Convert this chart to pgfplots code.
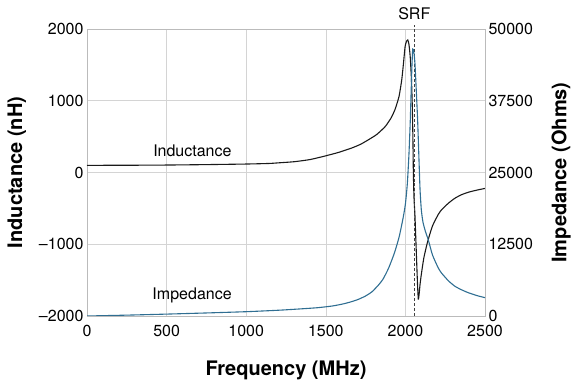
\documentclass[border=0pt]{standalone}
\usepackage{fontspec}
\setmainfont{TeX Gyre Heros}
\usepackage{pgfplots}
\pgfplotsset{compat=1.18}
\definecolor{indc}{HTML}{1A1A1A}
\definecolor{impc}{HTML}{2F6E92}
\definecolor{gridc}{HTML}{D4D4D4}
\definecolor{framec}{HTML}{BBBBBB}
\newcommand{\tickf}{\fontsize{16bp}{19bp}\selectfont}
\newcommand{\labf}{\fontsize{20bp}{24bp}\selectfont\bfseries}
\begin{document}
\begin{tikzpicture}
\path[use as bounding box] (0,0) rectangle (577bp,386bp);
\begin{axis}[
  at={(87bp,70bp)}, anchor=south west,
  scale only axis, width=398bp, height=287bp,
  xmin=0, xmax=2500, ymin=-2000, ymax=2000,
  xtick={0,500,1000,1500,2000,2500},
  xticklabels={0,500,1000,1500,2000,2500},
  ytick={-2000,-1000,0,1000,2000},
  yticklabels={\textendash2000,\textendash1000,0,1000,2000},
  scaled ticks=false,
  grid=major, grid style={gridc, line width=0.6bp},
  axis line style={framec, line width=0.8bp},
  major tick length=0,
  tick label style={font=\tickf, text=black},
  xticklabel style={yshift=-6bp},
  xlabel={Frequency (MHz)},
  ylabel={Inductance (nH)},
  xlabel style={font=\labf, at={(axis description cs:0.5,-0.188)}, anchor=center},
  ylabel style={font=\labf, at={(axis description cs:-0.176,0.5)}, anchor=center},
  clip=false,
]
\addplot[indc, line width=1.1bp, smooth, tension=0.35] coordinates {
(0,100) (250,101) (500,104) (750,110) (1000,118) (1144,126) (1206,135)
(1300,150) (1400,180) (1490,227) (1580,280) (1665,343) (1720,395)
(1769,458) (1820,530) (1873,640) (1910,760) (1935,880) (1960,1060)
(1977,1292) (1988,1523) (1998,1754) (2007,1830) (2015,1847) (2022,1790)
(2030,1620) (2038,1300) (2043,950) (2047,500) (2050,0) (2054,-350)
(2060,-600) (2065,-900) (2070,-1200) (2076,-1550) (2081,-1764)
(2086,-1700) (2092,-1560) (2100,-1420) (2115,-1200) (2130,-1050)
(2144,-930) (2170,-745) (2206,-586) (2227,-520) (2270,-428) (2310,-360)
(2350,-312) (2394,-276) (2450,-245) (2500,-222)
};
\addplot[black!75, densely dashed, line width=0.6bp] coordinates {(2054,-2000) (2054,2060)};
\node[font=\tickf] at (axis cs:662,296) {Inductance};
\node[font=\tickf] at (axis cs:660,-1718) {Impedance};
\node[font=\tickf] at (axis cs:2056,2218) {SRF};
\end{axis}
\begin{axis}[
  at={(87bp,70bp)}, anchor=south west,
  scale only axis, width=398bp, height=287bp,
  xmin=0, xmax=2500, ymin=0, ymax=50000,
  axis x line=none, axis y line*=right,
  ytick={0,12500,25000,37500,50000},
  yticklabels={0,12500,25000,37500,50000},
  scaled ticks=false,
  axis line style={framec, line width=0.8bp},
  major tick length=0,
  tick label style={font=\tickf, text=black},
  ylabel={Impedance (Ohms)},
  ylabel style={font=\labf, at={(axis description cs:1.191,0.5)}, anchor=center},
]
\addplot[impc, line width=1.1bp, smooth, tension=0.35] coordinates {
(0,0) (250,150) (500,330) (750,530) (1000,750) (1200,1000) (1331,1220)
(1450,1450) (1540,1740) (1600,2050) (1650,2400) (1700,2850) (1748,3460)
(1790,4220) (1831,5400) (1860,6450) (1894,8310) (1930,10900) (1960,13700)
(1985,17000) (2000,19500) (2012,23000) (2022,28000) (2030,33500)
(2036,39000) (2041,43500) (2046,46500) (2053,46000) (2060,44000)
(2068,39500) (2077,34000) (2085,27500) (2092,22000) (2100,18500)
(2110,16400) (2125,14800) (2144,13240) (2170,10640) (2206,8390)
(2227,7480) (2270,6135) (2310,5200) (2350,4600) (2394,4070)
(2450,3550) (2500,3200)
};
\end{axis}
\end{tikzpicture}
\end{document}
